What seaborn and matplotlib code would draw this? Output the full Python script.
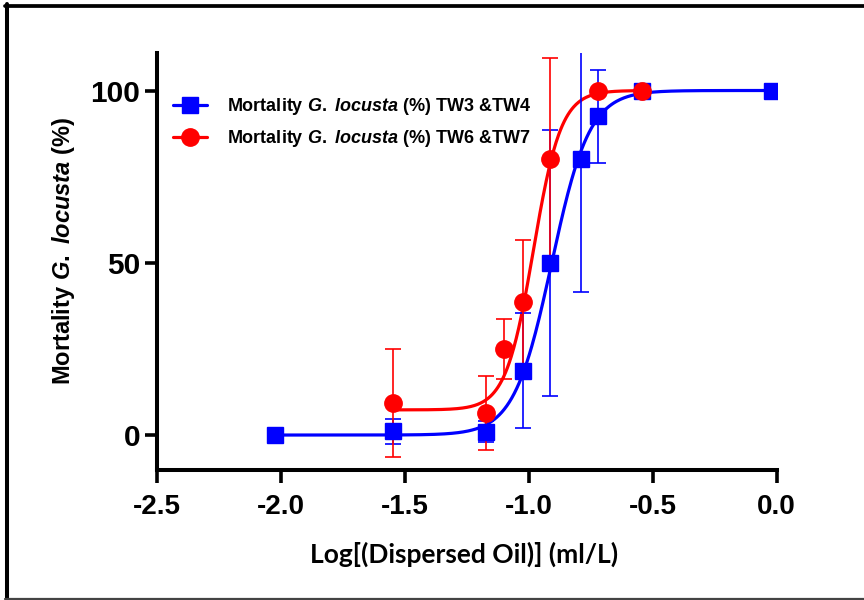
import numpy as np
import pandas as pd
import matplotlib
matplotlib.use("Agg")
import matplotlib.pyplot as plt
from matplotlib.lines import Line2D
import seaborn as sns

# Mean mortality (%) with error, per log concentration
blue_x = [-2.023, -1.546, -1.172, -1.022, -0.913, -0.789, -0.719, -0.542, -0.018]
blue_y = [0.0, 1.1, 1.0, 18.7, 50.0, 80.1, 92.5, 100.0, 100.0]
blue_err = [0.0, 3.7, 3.0, 16.8, 38.6, 38.5, 13.4, 0.0, 0.0]

red_x = [-1.546, -1.172, -1.098, -1.022, -0.913, -0.719, -0.542]
red_y = [9.2, 6.4, 25.0, 38.5, 80.0, 100.0, 100.0]
red_err = [15.7, 10.8, 8.8, 18.0, 29.4, 0.0, 0.0]

# Four-parameter logistic fit results: bottom, top, logEC50, hill slope
blue_fit = (0.0, 100.0, -0.907, 5.7)
red_fit = (7.3, 100.0, -0.981, 7.8)

labels = [r"Mortality $\mathit{G.\ locusta}$ (%) TW3 &TW4",
          r"Mortality $\mathit{G.\ locusta}$ (%) TW6 &TW7"]
x_ticks = [-2.5, -2.0, -1.5, -1.0, -0.5, 0.0]
y_ticks = [0, 50, 100]

BLUE = "#0000ff"
RED = "#ff0000"

sns.set_theme(style="ticks")
plt.rcParams["font.family"] = ["Liberation Sans", "DejaVu Sans"]
plt.rcParams["mathtext.fontset"] = "custom"
plt.rcParams["mathtext.it"] = "Liberation Sans:italic:bold"
plt.rcParams["mathtext.rm"] = "Liberation Sans:bold"


def logistic(x, bottom, top, logec50, hill):
    x = np.asarray(x)
    return bottom + (top - bottom) / (1 + 10 ** ((logec50 - x) * hill))


fig = plt.figure(figsize=(8.64, 6.0), dpi=100)
ax = fig.add_axes([156.7 / 864, 1 - 469.5 / 600, 620 / 864, (469.5 - 52.6) / 600])

series = [
    (blue_x, blue_y, blue_err, blue_fit, BLUE, "s", 12),
    (red_x, red_y, red_err, red_fit, RED, "o", 12.5),
]

for xs, ys, errs, fit, color, marker, msize in series:
    xx = np.linspace(min(xs), max(xs), 400)
    curve = pd.DataFrame({"x": xx, "y": logistic(xx, *fit)})
    sns.lineplot(data=curve, x="x", y="y", ax=ax, color=color, lw=2.3,
                 legend=False)
    ax.errorbar(xs, ys, yerr=errs, fmt=marker, color=color, ms=msize,
                mec=color, elinewidth=1.2, capsize=5.5, capthick=1.2,
                zorder=3)

ax.set_xlim(-2.5, 0.0)
ax.set_ylim(-10, 111)
ax.set_xticks(x_ticks)
ax.set_xticklabels([f"{t:.1f}" for t in x_ticks])
ax.set_yticks(y_ticks)
ax.set_xlabel("")
ax.set_ylabel("")

for side in ("top", "right"):
    ax.spines[side].set_visible(False)
for side in ("left", "bottom"):
    ax.spines[side].set_linewidth(2.9)
    ax.spines[side].set_color("black")
    ax.spines[side].set_capstyle("projecting")

ax.tick_params(axis="both", direction="out", length=9, width=2.6,
               color="black")
ax.tick_params(axis="x", pad=9, labelsize=20)
ax.tick_params(axis="y", pad=3, labelsize=21.5)
for lab in ax.get_xticklabels() + ax.get_yticklabels():
    lab.set_fontweight("bold")
    lab.set_color("black")

handles = [
    Line2D([], [], color=BLUE, marker="s", ms=12, lw=2.3),
    Line2D([], [], color=RED, marker="o", ms=12.5, lw=2.3),
]
leg = ax.legend(handles, labels, loc="upper left",
                bbox_to_anchor=(0.026, 0.895), frameon=False, borderpad=0,
                borderaxespad=0, handlelength=1.9, handletextpad=1.1,
                labelspacing=0.6, prop={"weight": "bold", "size": 13})
for t in leg.get_texts():
    t.set_color("black")

fig.text(64 / 864, 1 - 251 / 600, r"Mortality $\mathit{G.\ locusta}$ (%)",
         rotation=90, ha="center", va="center", fontsize=17,
         fontweight="bold", color="black")
fig.text(464 / 864, 1 - 554 / 600, "Log[(Dispersed Oil)] (ml/L)",
         ha="center", va="center", fontsize=19, fontweight="bold",
         family=["Lato", "DejaVu Sans"], color="black")

# Frame around the figure
fig.add_artist(Line2D([7 / 864, 7 / 864], [0, 1 - 4 / 600],
                      transform=fig.transFigure, color="black", lw=2.9))
fig.add_artist(Line2D([5 / 864, 1], [1 - 5.5 / 600, 1 - 5.5 / 600],
                      transform=fig.transFigure, color="black", lw=2.7))
fig.add_artist(Line2D([5 / 864, 1], [1.5 / 600, 1.5 / 600],
                      transform=fig.transFigure, color="#444444", lw=1.6))

fig.savefig("out.png", dpi=100, facecolor="white")
